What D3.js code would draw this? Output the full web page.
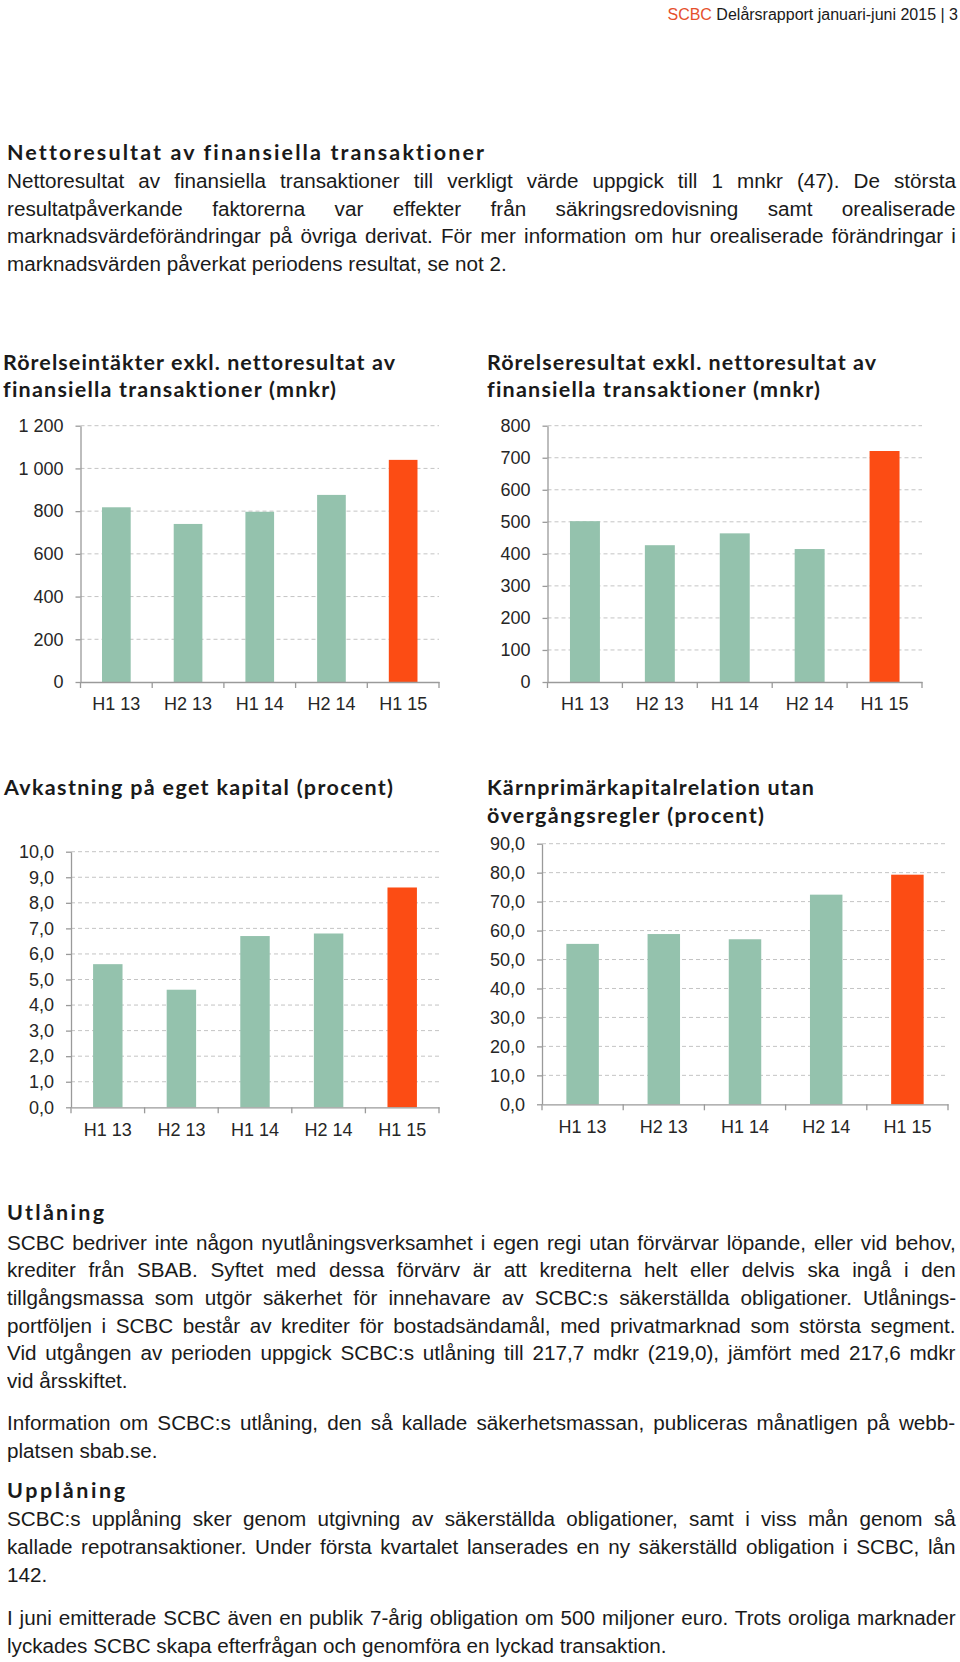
<!DOCTYPE html>
<html lang="sv">
<head>
<meta charset="UTF-8">
<title>SCBC Delårsrapport januari-juni 2015</title>
<script src="https://cdnjs.cloudflare.com/ajax/libs/d3/7.8.5/d3.min.js"></script>
<style>
  body { margin: 0; background: #fff; }
  #page { position: relative; width: 960px; height: 1662px; overflow: hidden;
          font-family: "Liberation Sans", Arial, sans-serif; color: #1a1a1a; }
  #page svg { position: absolute; left: 0; top: 0; }
  .para { position: absolute; left: 7px; width: 895px; font-size: 19.5px; line-height: 27.7px;
          transform: scaleX(1.06); transform-origin: 0 0; }
  .para div { white-space: nowrap; }
  .para span { display: inline-block; }
</style>
</head>
<body>
<div id="page">
  <div class="para" style="top:168px">
    <div>Nettoresultat av finansiella transaktioner till verkligt värde uppgick till 1 mnkr (47). De största</div>
    <div>resultatpåverkande faktorerna var effekter från säkringsredovisning samt orealiserade</div>
    <div>marknadsvärdeförändringar på övriga derivat. För mer information om hur orealiserade förändringar i</div>
    <div class="last">marknadsvärden påverkat periodens resultat, se not 2.</div>
  </div>
  <div class="para" style="top:1229.6px">
    <div>SCBC bedriver inte någon nyutlåningsverksamhet i egen regi utan förvärvar löpande, eller vid behov,</div>
    <div>krediter från SBAB. Syftet med dessa förvärv är att krediterna helt eller delvis ska ingå i den</div>
    <div>tillgångsmassa som utgör säkerhet för innehavare av SCBC:s säkerställda obligationer. Utlånings-</div>
    <div>portföljen i SCBC består av krediter för bostadsändamål, med privatmarknad som största segment.</div>
    <div>Vid utgången av perioden uppgick SCBC:s utlåning till 217,7 mdkr (219,0), jämfört med 217,6 mdkr</div>
    <div class="last">vid årsskiftet.</div>
  </div>
  <div class="para" style="top:1410.3px">
    <div>Information om SCBC:s utlåning, den så kallade säkerhetsmassan, publiceras månatligen på webb-</div>
    <div class="last">platsen sbab.se.</div>
  </div>
  <div class="para" style="top:1506.3px">
    <div>SCBC:s upplåning sker genom utgivning av säkerställda obligationer, samt i viss mån genom så</div>
    <div>kallade repotransaktioner. Under första kvartalet lanserades en ny säkerställd obligation i SCBC, lån</div>
    <div class="last">142.</div>
  </div>
  <div class="para" style="top:1605.3px">
    <div>I juni emitterade SCBC även en publik 7-årig obligation om 500 miljoner euro. Trots oroliga marknader</div>
    <div class="last">lyckades SCBC skapa efterfrågan och genomföra en lyckad transaktion.</div>
  </div>
</div>
<script>
// data
const periods = ["H1 13", "H2 13", "H1 14", "H2 14", "H1 15"];
const rorelseintakter = [818, 740, 797, 876, 1040];   // mnkr
const rorelseresultat = [502, 427, 464, 415, 721];    // mnkr
const avkastning = [5.6, 4.6, 6.7, 6.8, 8.6];         // procent
const karnprimar = [55.4, 58.8, 57.0, 72.4, 79.3];    // procent

const ticksIntakter = [0, 200, 400, 600, 800, 1000, 1200];
const ticksResultat = [0, 100, 200, 300, 400, 500, 600, 700, 800];
const ticksAvkastning = [0, 1, 2, 3, 4, 5, 6, 7, 8, 9, 10];
const ticksKarnprimar = [0, 10, 20, 30, 40, 50, 60, 70, 80, 90];

const green = "#94c2ad";
const orange = "#fc4c14";
const headFont = "Lato, 'Open Sans', sans-serif";

const sv = d3.formatLocale({ decimal: ",", thousands: " ", grouping: [3], currency: ["", " kr"] });

// justify body lines by word spacing so the line breaks stay as in the report
d3.selectAll(".para div").each(function() {
    const div = d3.select(this);
    if (div.classed("last")) return;
    const txt = div.text();
    div.text("");
    const span = div.append("span").text(txt);
    const natural = span.node().offsetWidth;
    const gaps = (txt.match(/ /g) || []).length;
    const target = div.node().offsetWidth;
    if (gaps > 0) div.style("word-spacing", ((target - natural) / gaps) + "px");
});

const svg = d3.select("#page").insert("svg", ":first-child")
    .attr("width", 960)
    .attr("height", 1662);

// page header
const header = svg.append("text")
    .attr("x", 958).attr("y", 20)
    .attr("text-anchor", "end")
    .attr("font-family", "'Liberation Sans', Arial, sans-serif")
    .attr("font-size", 16)
    .attr("fill", "#1a1a1a");
header.append("tspan").attr("fill", "#e5502c").text("SCBC");
header.append("tspan").text(" Delårsrapport januari-juni 2015 | 3");

// headings, stretched to the widths of the original
function heading(txt, x, y, len) {
    svg.append("text")
        .attr("x", x).attr("y", y)
        .attr("font-family", headFont)
        .attr("font-weight", 700)
        .attr("font-size", 21.5)
        .attr("fill", "#1a1a1a")
        .style("font-variant-ligatures", "none")
        .attr("textLength", len)
        .attr("lengthAdjust", "spacing")
        .text(txt);
}
heading("Nettoresultat av finansiella transaktioner", 7, 160, 477);
heading("Rörelseintäkter exkl. nettoresultat av", 3, 370, 392);
heading("finansiella transaktioner (mnkr)", 3, 397, 333);
heading("Rörelseresultat exkl. nettoresultat av", 487, 370, 389);
heading("finansiella transaktioner (mnkr)", 487, 397, 333);
heading("Avkastning på eget kapital (procent)", 4, 795, 389);
heading("Kärnprimärkapitalrelation utan", 487, 795, 327);
heading("övergångsregler (procent)", 487, 823, 277);
heading("Utlåning", 7, 1220, 97);
heading("Upplåning", 7, 1498, 118);

function drawChart(cfg) {
    const g = svg.append("g");

    const x = d3.scaleBand()
        .domain(periods)
        .range([cfg.x0, cfg.x1])
        .paddingInner(0.6)
        .paddingOuter(0.3);

    const y = d3.scaleLinear()
        .domain([0, cfg.max])
        .range([cfg.y0, cfg.y1]);

    // dashed gridlines
    g.append("g").selectAll("line")
        .data(cfg.ticks.filter(t => t > 0))
        .join("line")
        .attr("x1", cfg.x0).attr("x2", cfg.x1)
        .attr("y1", d => y(d)).attr("y2", d => y(d))
        .attr("stroke", "#c4c4c4")
        .attr("stroke-width", 1)
        .attr("stroke-dasharray", "4,3");

    // bars, the latest period highlighted
    g.append("g").selectAll("rect")
        .data(cfg.values)
        .join("rect")
        .attr("x", (d, i) => x(periods[i]))
        .attr("width", x.bandwidth())
        .attr("y", d => y(d))
        .attr("height", d => y(0) - y(d))
        .attr("fill", (d, i) => i === cfg.values.length - 1 ? orange : green);

    // y axis
    const yAxis = d3.axisLeft(y)
        .tickValues(cfg.ticks)
        .tickFormat(cfg.format)
        .tickSize(5)
        .tickSizeOuter(0)
        .tickPadding(12);
    const ya = g.append("g")
        .attr("transform", `translate(${cfg.x0},0)`)
        .call(yAxis);
    ya.selectAll("text")
        .attr("font-family", "'Liberation Sans', Arial, sans-serif")
        .attr("font-size", 18)
        .attr("fill", "#262626");

    // x axis, labels under bars and ticks on band edges
    const xAxis = d3.axisBottom(x)
        .tickSize(0)
        .tickSizeOuter(0)
        .tickPadding(cfg.labelPad);
    const xa = g.append("g")
        .attr("transform", `translate(0,${cfg.y0})`)
        .call(xAxis);
    xa.selectAll("text")
        .attr("font-family", "'Liberation Sans', Arial, sans-serif")
        .attr("font-size", 18)
        .attr("fill", "#262626");
    const edges = periods.map(p => x(p) - x.step() * 0.3).concat([cfg.x1]);
    xa.selectAll(".edge")
        .data(edges)
        .join("line")
        .attr("class", "edge")
        .attr("x1", d => d).attr("x2", d => d)
        .attr("y1", 0).attr("y2", 6);

    g.selectAll(".domain, .tick line, .edge")
        .attr("stroke", "#9a9a9a")
        .attr("stroke-width", 1.3);
}

drawChart({ values: rorelseintakter, ticks: ticksIntakter, max: 1200, format: sv.format(",.0f"),
            x0: 80.5, x1: 439, y0: 682, y1: 425.7, labelPad: 15 });
drawChart({ values: rorelseresultat, ticks: ticksResultat, max: 800, format: sv.format("d"),
            x0: 547.5, x1: 922, y0: 682, y1: 425.7, labelPad: 15 });
drawChart({ values: avkastning, ticks: ticksAvkastning, max: 10, format: sv.format(".1f"),
            x0: 71, x1: 439, y0: 1107.3, y1: 851.7, labelPad: 16 });
drawChart({ values: karnprimar, ticks: ticksKarnprimar, max: 90, format: sv.format(".1f"),
            x0: 542, x1: 948, y0: 1104.3, y1: 843.7, labelPad: 16 });
</script>
</body>
</html>
